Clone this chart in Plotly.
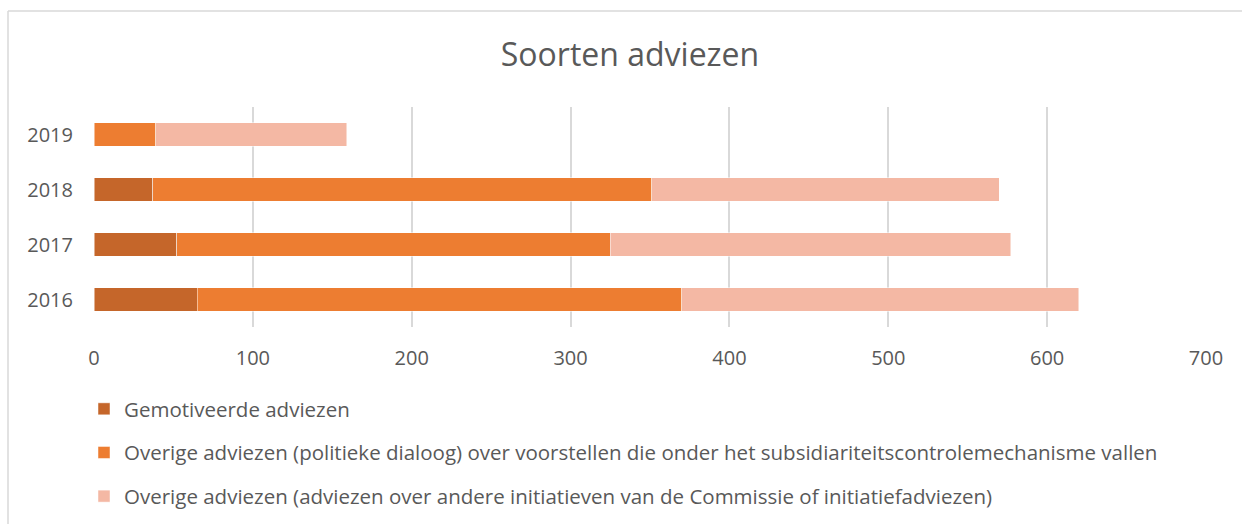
import plotly.graph_objects as go

years = ["2016", "2017", "2018", "2019"]
gemotiveerd = [65, 52, 37, 0]
politieke_dialoog = [305, 273, 314, 39]
overige = [250, 252, 219, 120]

series_names = [
    "Gemotiveerde adviezen",
    "Overige adviezen (politieke dialoog) over voorstellen die onder het subsidiariteitscontrolemechanisme vallen",
    "Overige adviezen (adviezen over andere initiatieven van de Commissie of initiatiefadviezen)",
]
series_values = [gemotiveerd, politieke_dialoog, overige]
colors = ["#C5662A", "#ED7D31", "#F4B8A4"]
x_ticks = [0, 100, 200, 300, 400, 500, 600, 700]

FONT = "Open Sans"
GREY = "#595959"

W, H = 1242, 524
L, R, T, B = 94, 36, 107, 197
pw, ph = W - L - R, H - T - B


def px_x(px):
    return (px - L) / pw


def px_y(py):
    return (H - B - py) / ph


fig = go.Figure()
for i, (name, vals, col) in enumerate(zip(series_names, series_values, colors)):
    fig.add_trace(go.Bar(
        y=years, x=vals, name=name, orientation="h",
        marker=dict(color=col, line=dict(color="rgba(255,255,255,0.6)", width=0.8)),
        legendgroup=f"g{i}",
    ))

fig.update_layout(
    width=W, height=H,
    margin=dict(l=L, r=R, t=T, b=B, autoexpand=False),
    barmode="stack",
    bargap=0.58,
    paper_bgcolor="white",
    plot_bgcolor="white",
    font=dict(family=FONT, color=GREY, size=20),
    title=dict(text="Soorten adviezen", x=630 / W, xanchor="center", y=1 - 55 / H, yanchor="middle",
               font=dict(family=FONT, size=32, color=GREY)),
    xaxis=dict(range=[0, 700], tickvals=x_ticks, showgrid=True, gridcolor="#D9D9D9", gridwidth=1.5,
               zeroline=False, showline=False, ticks="", ticklabelstandoff=17,
               tickfont=dict(family=FONT, size=20, color=GREY), fixedrange=True, automargin=False),
    yaxis=dict(categoryorder="array", categoryarray=years, showgrid=False, zeroline=False,
               showline=False, ticks="", ticklabelstandoff=20,
               tickfont=dict(family=FONT, size=20, color=GREY), fixedrange=True, automargin=False),
    legend=dict(orientation="v", x=px_x(84), xanchor="left", y=px_y(389), yanchor="top",
                traceorder="grouped", tracegroupgap=14, font=dict(family=FONT, size=20.5, color=GREY),
                bgcolor="rgba(0,0,0,0)", itemclick=False, itemdoubleclick=False),
    showlegend=True,
    shapes=[
        dict(type="line", xref="paper", yref="paper", x0=px_x(8), x1=px_x(1250), y0=px_y(11), y1=px_y(11),
             line=dict(color="#D9D9D9", width=1.5)),
        dict(type="line", xref="paper", yref="paper", x0=px_x(8), x1=px_x(8), y0=px_y(11), y1=px_y(560),
             line=dict(color="#D9D9D9", width=1.5)),
    ],
)

fig.write_html("out.html", config={"displayModeBar": False},
               post_script="document.body.style.margin='0';document.body.style.overflow='hidden';")
